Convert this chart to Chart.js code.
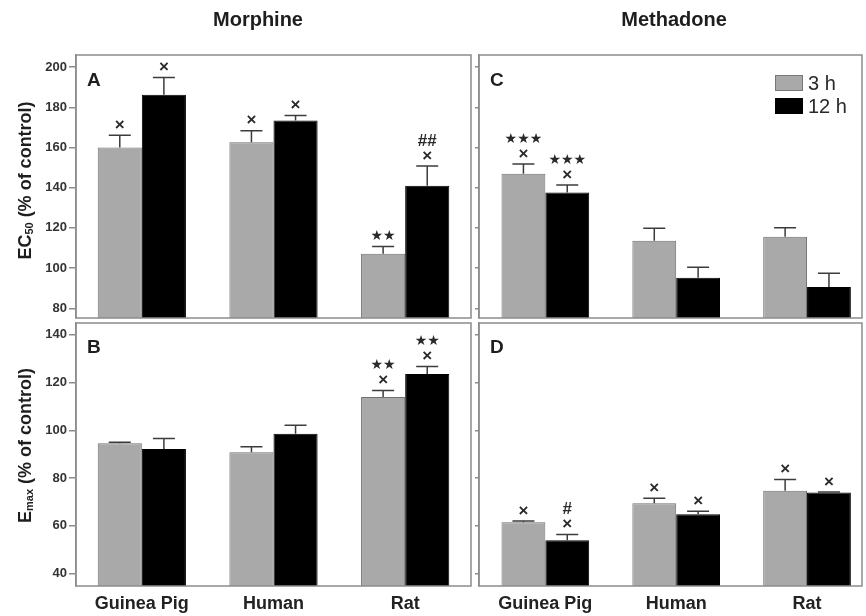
<!DOCTYPE html>
<html>
<head>
<meta charset="utf-8">
<script src="https://cdn.jsdelivr.net/npm/chart.js@4.4.1/dist/chart.umd.min.js"></script>
<style>
  html, body { margin: 0; padding: 0; background: #fff; overflow: hidden; }
  #wrap { position: relative; width: 866px; height: 616px; overflow: hidden; }
  canvas { position: absolute; }
</style>
</head>
<body>
<div id="wrap">
  <canvas id="pA" width="474" height="320" style="left:0;top:0"></canvas>
  <canvas id="pC" width="392" height="320" style="left:474px;top:0"></canvas>
  <canvas id="pB" width="474" height="296" style="left:0;top:320px"></canvas>
  <canvas id="pD" width="392" height="296" style="left:474px;top:320px"></canvas>
</div>
<script>
// Species tested and the two exposure times
const categories = ['Guinea Pig', 'Human', 'Rat'];
const seriesNames = ['3 h', '12 h'];

// EC50 (% of control), morphine
const morphineEC50_3h = [160, 162.6, 107.2];
const morphineEC50_3h_sem = [6.1, 5.7, 3.5];
const morphineEC50_12h = [186.2, 173.4, 141];
const morphineEC50_12h_sem = [8.6, 2.5, 9.8];

// EC50 (% of control), methadone
const methadoneEC50_3h = [147, 113.6, 115.6];
const methadoneEC50_3h_sem = [4.8, 6.2, 4.5];
const methadoneEC50_12h = [137.6, 95.2, 90.6];
const methadoneEC50_12h_sem = [3.8, 5.2, 6.8];

// Emax (% of control), morphine
const morphineEmax_3h = [94.6, 90.8, 113.9];
const morphineEmax_3h_sem = [0.4, 2.3, 2.7];
const morphineEmax_12h = [92.2, 98.5, 123.5];
const morphineEmax_12h_sem = [4.4, 3.6, 3.2];

// Emax (% of control), methadone
const methadoneEmax_3h = [61.5, 69.4, 74.7];
const methadoneEmax_3h_sem = [0.5, 2.1, 4.7];
const methadoneEmax_12h = [54, 64.8, 73.9];
const methadoneEmax_12h_sem = [2.4, 1.3, 0.3];

// Significance marks above each bar (lowest line first)
const morphineEC50_3h_marks = [['×'], ['×'], ['★★']];
const morphineEC50_12h_marks = [['×'], ['×'], ['×', '##']];
const methadoneEC50_3h_marks = [['×', '★★★'], [], []];
const methadoneEC50_12h_marks = [['×', '★★★'], [], []];
const morphineEmax_3h_marks = [[], [], ['×', '★★']];
const morphineEmax_12h_marks = [[], [], ['×', '★★']];
const methadoneEmax_3h_marks = [['×'], ['×'], ['×']];
const methadoneEmax_12h_marks = [['×', '#'], ['×'], ['×']];

// Axis ticks
const ec50Ticks = [80, 100, 120, 140, 160, 180, 200];
const emaxTicks = [40, 60, 80, 100, 120, 140];

const FONT = '"Liberation Sans", Arial, Helvetica, sans-serif';
Chart.defaults.font.family = FONT;
Chart.defaults.color = '#2a2a2a';

const GRAY = '#a9a9a9';
const FRAME = '#8c8c8c';

const panelDecor = {
  id: 'panelDecor',
  afterDatasetsDraw(chart) {
    const ctx = chart.ctx;
    const ys = chart.scales.y;
    chart.data.datasets.forEach((ds, di) => {
      const meta = chart.getDatasetMeta(di);
      meta.data.forEach((bar, i) => {
        const v = ds.data[i].y;
        const top = ys.getPixelForValue(v + ds.sem[i]);
        ctx.save();
        ctx.strokeStyle = '#3c3c3c';
        ctx.lineWidth = 1.5;
        ctx.beginPath();
        ctx.moveTo(bar.x, bar.y);
        ctx.lineTo(bar.x, top);
        ctx.moveTo(bar.x - 11, top);
        ctx.lineTo(bar.x + 11, top);
        ctx.stroke();
        ctx.fillStyle = '#2a2a2a';
        ctx.textAlign = 'center';
        ctx.textBaseline = 'middle';
        (ds.marks[i] || []).forEach((m, k) => {
          const yy = top - 10 - 15 * k;
          ctx.font = m.indexOf('★') >= 0 ? '14px "DejaVu Sans"' : 'bold 17px ' + FONT;
          ctx.fillText(m, bar.x, yy);
        });
        ctx.restore();
      });
    });
  },
  afterDraw(chart, args, o) {
    const ctx = chart.ctx;
    const a = chart.chartArea;
    ctx.save();
    // panel frame
    ctx.strokeStyle = FRAME;
    ctx.lineWidth = 1.5;
    ctx.strokeRect(a.left, a.top, a.right - a.left, a.bottom - a.top);
    // panel letter
    ctx.fillStyle = '#1e1e1e';
    ctx.font = 'bold 19px ' + FONT;
    ctx.textAlign = 'left';
    ctx.textBaseline = 'alphabetic';
    ctx.fillText(o.letter, a.left + 11, a.top + o.letterDy);
    // column heading
    if (o.heading) {
      ctx.font = 'bold 20px ' + FONT;
      ctx.textAlign = 'center';
      ctx.fillText(o.heading, o.headingX, 26);
    }
    // rotated y title with subscript
    if (o.yTitle) {
      const [pre, sub, post] = o.yTitle;
      const big = 'bold 18px ' + FONT, small = 'bold 11px ' + FONT;
      ctx.font = big; const w1 = ctx.measureText(pre).width, w3 = ctx.measureText(post).width;
      ctx.font = small; const w2 = ctx.measureText(sub).width;
      const total = w1 + w2 + w3;
      ctx.translate(o.yTitleX, (a.top + a.bottom) / 2 + o.yTitleDy);
      ctx.rotate(-Math.PI / 2);
      ctx.textAlign = 'left';
      ctx.textBaseline = 'middle';
      let x = -total / 2;
      ctx.font = big; ctx.fillText(pre, x, 0); x += w1;
      ctx.font = small; ctx.fillText(sub, x, 4); x += w2;
      ctx.font = big; ctx.fillText(post, x, 0);
      ctx.setTransform(1, 0, 0, 1, 0, 0);
    }
    // legend
    if (o.legend) {
      const [lx, ly] = o.legend;
      chart.data.datasets.forEach((ds, di) => {
        const by = ly + di * 23;
        ctx.fillStyle = ds.backgroundColor;
        ctx.fillRect(lx, by, 28, 16);
        ctx.strokeStyle = di === 0 ? '#777' : '#000';
        ctx.lineWidth = 1;
        ctx.strokeRect(lx + 0.5, by + 0.5, 27, 15);
        ctx.fillStyle = '#2a2a2a';
        ctx.font = '20px ' + FONT;
        ctx.textAlign = 'left';
        ctx.textBaseline = 'middle';
        ctx.fillText(ds.label, lx + 33, by + 9);
      });
    }
    ctx.restore();
  }
};

function buildPanel(id, p) {
  const points = arr => arr.map((v, i) => ({ x: i, y: v }));
  return new Chart(document.getElementById(id), {
    type: 'bar',
    data: {
      datasets: [
        { label: seriesNames[0], data: points(p.s1), sem: p.e1, marks: p.m1,
          backgroundColor: GRAY, borderColor: '#707070', borderWidth: 1 },
        { label: seriesNames[1], data: points(p.s2), sem: p.e2, marks: p.m2,
          backgroundColor: '#000', borderColor: '#000', borderWidth: 1 }
      ]
    },
    options: {
      responsive: false,
      animation: false,
      devicePixelRatio: 1,
      categoryPercentage: 0.67,
      barPercentage: 1,
      layout: { padding: p.pad },
      plugins: {
        legend: { display: false },
        tooltip: { enabled: false },
        panelDecor: p.decor
      },
      scales: {
        x: {
          type: 'linear',
          offset: false,
          display: p.showX,
          min: p.xMin, max: p.xMax,
          afterBuildTicks: s => { s.ticks = categories.map((c, i) => ({ value: i })); },
          afterFit: s => {
            s.height = p.showX ? 30 : 0;
            s.paddingLeft = 0; s.paddingRight = 0;
          },
          grid: { display: false, drawTicks: false },
          border: { display: false },
          ticks: {
            callback: v => categories[v],
            font: { size: 18, weight: 'bold' },
            color: '#222',
            padding: 7,
            maxRotation: 0,
            autoSkip: false
          }
        },
        y: {
          min: p.yMin, max: p.yMax,
          afterBuildTicks: s => { s.ticks = p.yTicks.map(v => ({ value: v })); },
          afterFit: s => {
            s.width = p.yWidth;
            s.paddingTop = 0; s.paddingBottom = 0;
          },
          grid: { drawOnChartArea: false, drawTicks: true, tickLength: p.tickLen, color: FRAME, lineWidth: 1.5 },
          border: { display: true, color: FRAME, width: 1.5 },
          ticks: {
            display: p.showYLabels,
            font: { size: 13, weight: 'bold' },
            color: '#333',
            padding: 2
          }
        }
      }
    },
    plugins: [panelDecor]
  });
}

const ec50Range = { yMin: 75.2, yMax: 206, yTicks: ec50Ticks };
const emaxRange = { yMin: 34.8, yMax: 144.9, yTicks: emaxTicks };
const leftCols = { xMin: -0.5, xMax: 2.5, yWidth: 76, tickLen: 7, showYLabels: true };
const rightCols = { xMin: -0.507, xMax: 2.42, yWidth: 5, tickLen: 4, showYLabels: false };

buildPanel('pA', Object.assign({}, ec50Range, leftCols, {
  s1: morphineEC50_3h, e1: morphineEC50_3h_sem, m1: morphineEC50_3h_marks,
  s2: morphineEC50_12h, e2: morphineEC50_12h_sem, m2: morphineEC50_12h_marks,
  showX: false, pad: { left: 0, top: 55, right: 3, bottom: 2 },
  decor: { letter: 'A', letterDy: 31, heading: 'Morphine', headingX: 258,
           yTitle: ['EC', '50', ' (% of control)'], yTitleX: 26, yTitleDy: -6 }
}));

buildPanel('pC', Object.assign({}, ec50Range, rightCols, {
  s1: methadoneEC50_3h, e1: methadoneEC50_3h_sem, m1: methadoneEC50_3h_marks,
  s2: methadoneEC50_12h, e2: methadoneEC50_12h_sem, m2: methadoneEC50_12h_marks,
  showX: false, pad: { left: 0, top: 55, right: 4, bottom: 2 },
  decor: { letter: 'C', letterDy: 31, heading: 'Methadone', headingX: 200,
           legend: [301, 75] }
}));

buildPanel('pB', Object.assign({}, emaxRange, leftCols, {
  s1: morphineEmax_3h, e1: morphineEmax_3h_sem, m1: morphineEmax_3h_marks,
  s2: morphineEmax_12h, e2: morphineEmax_12h_sem, m2: morphineEmax_12h_marks,
  showX: true, pad: { left: 0, top: 3, right: 3, bottom: 0 },
  decor: { letter: 'B', letterDy: 30,
           yTitle: ['E', 'max', ' (% of control)'], yTitleX: 26, yTitleDy: -9 }
}));

buildPanel('pD', Object.assign({}, emaxRange, rightCols, {
  s1: methadoneEmax_3h, e1: methadoneEmax_3h_sem, m1: methadoneEmax_3h_marks,
  s2: methadoneEmax_12h, e2: methadoneEmax_12h_sem, m2: methadoneEmax_12h_marks,
  showX: true, pad: { left: 0, top: 3, right: 4, bottom: 0 },
  decor: { letter: 'D', letterDy: 30 }
}));
</script>
</body>
</html>
